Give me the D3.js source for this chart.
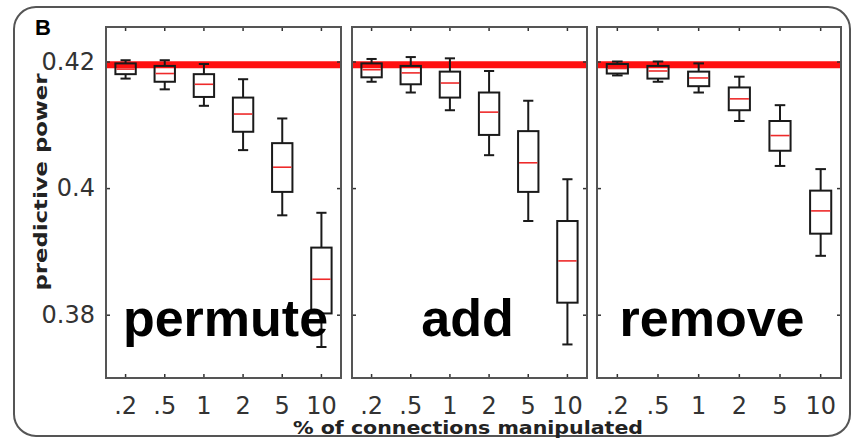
<!DOCTYPE html>
<html lang="en">
<head>
    <meta charset="UTF-8">
    <title>Predictive power vs % of connections manipulated</title>
    <script src="https://d3js.org/d3.v7.min.js"></script>
    <style>
        body { margin: 0; background: #fff; }
        svg { display: block; }
    </style>
</head>
<body>
    <div id="chart"></div>
    <script>
        // categories and tick labels
        const categories = ['.2', '.5', '1', '2', '5', '10'];
        const yTicks = [0.38, 0.4, 0.42];
        const panelNames = ['permute', 'add', 'remove'];
        const referenceLevel = 0.4195;

        // each row: [lower whisker, q1, median, q3, upper whisker]
        const permuteStats = [
            [0.4173, 0.4180, 0.4188, 0.4197, 0.4202],
            [0.4156, 0.4168, 0.4181, 0.4193, 0.4202],
            [0.4130, 0.4144, 0.4164, 0.4180, 0.4196],
            [0.4060, 0.4089, 0.4117, 0.4143, 0.4172],
            [0.3957, 0.3994, 0.4033, 0.4071, 0.4110],
            [0.3749, 0.3802, 0.3856, 0.3906, 0.3961]
        ];
        const addStats = [
            [0.4168, 0.4175, 0.4187, 0.4197, 0.4204],
            [0.4151, 0.4164, 0.4182, 0.4193, 0.4207],
            [0.4123, 0.4143, 0.4166, 0.4184, 0.4205],
            [0.4052, 0.4084, 0.4120, 0.4151, 0.4185],
            [0.3948, 0.3994, 0.4040, 0.4090, 0.4138],
            [0.3753, 0.3819, 0.3885, 0.3948, 0.4014]
        ];
        const removeStats = [
            [0.4178, 0.4181, 0.4189, 0.4196, 0.4200],
            [0.4168, 0.4173, 0.4185, 0.4193, 0.4200],
            [0.4151, 0.4161, 0.4174, 0.4184, 0.4197],
            [0.4106, 0.4123, 0.4141, 0.4159, 0.4176],
            [0.4035, 0.4059, 0.4083, 0.4106, 0.4131],
            [0.3893, 0.3928, 0.3964, 0.3996, 0.4030]
        ];
        const panelStats = [permuteStats, addStats, removeStats];

        // layout
        const width = 852, height = 439;
        const plotTop = 27, plotBottom = 378;
        const panelLeft = [106, 352, 597];
        const panelWidth = [235, 235, 244];
        const labelShift = [2, -2, -7];

        const svg = d3.select('#chart').append('svg')
            .attr('width', width)
            .attr('height', height);

        // outer rounded frame
        svg.append('rect')
            .attr('x', 14).attr('y', 7)
            .attr('width', 836).attr('height', 429)
            .attr('rx', 22)
            .attr('fill', 'none')
            .attr('stroke', '#555')
            .attr('stroke-width', 2);

        svg.append('text')
            .attr('x', 35).attr('y', 35)
            .style('font-family', '"Liberation Sans", Arial, sans-serif')
            .style('font-weight', 'bold')
            .style('font-size', '22px')
            .text('B');

        const y = d3.scaleLinear().domain([0.37, 0.42545]).range([plotBottom, plotTop]);

        panelNames.forEach((name, p) => {
            const x0 = panelLeft[p], w = panelWidth[p];
            const x = d3.scaleBand().domain(categories).range([x0, x0 + w]);
            const g = svg.append('g');

            // reference level
            g.append('line')
                .attr('x1', x0).attr('x2', x0 + w)
                .attr('y1', y(referenceLevel)).attr('y2', y(referenceLevel))
                .attr('stroke', '#ff1010')
                .attr('stroke-width', 7);

            // axes (ticks pointing inward)
            const bottomAxis = g.append('g')
                .attr('transform', `translate(0,${plotBottom})`)
                .call(d3.axisBottom(x).tickSize(-4).tickPadding(18.5));
            bottomAxis.selectAll('text')
                .style('font-family', '"DejaVu Sans", sans-serif')
                .style('font-size', '24px')
                .attr('fill', '#333');

            g.append('g')
                .attr('transform', `translate(0,${plotTop})`)
                .call(d3.axisTop(x).tickSize(-4).tickFormat(''));

            const leftAxis = g.append('g')
                .attr('transform', `translate(${x0},0)`)
                .call(d3.axisLeft(y).tickValues(yTicks).tickSize(-4).tickPadding(11)
                    .tickFormat(p === 0 ? d3.format('') : ''));
            leftAxis.selectAll('text')
                .style('font-family', '"DejaVu Sans", sans-serif')
                .style('font-size', '24px')
                .attr('fill', '#333');

            g.append('g')
                .attr('transform', `translate(${x0 + w},0)`)
                .call(d3.axisRight(y).tickValues(yTicks).tickSize(-4).tickFormat(''));

            g.selectAll('.domain').remove();
            g.selectAll('.tick line').attr('stroke', '#333').attr('stroke-width', 1.5);

            // panel frame
            g.append('rect')
                .attr('x', x0).attr('y', plotTop)
                .attr('width', w).attr('height', plotBottom - plotTop)
                .attr('fill', 'none')
                .attr('stroke', '#555')
                .attr('stroke-width', 2);

            // boxes
            const bw = x.bandwidth() * 0.52;
            const cap = bw * 0.5;
            const boxes = g.selectAll('.box')
                .data(panelStats[p])
                .enter().append('g')
                .attr('class', 'box')
                .attr('transform', (d, i) => `translate(${x(categories[i]) + x.bandwidth() / 2},0)`);

            boxes.append('line')
                .attr('y1', d => y(d[4])).attr('y2', d => y(d[3]))
                .attr('stroke', '#1a1a1a').attr('stroke-width', 2);
            boxes.append('line')
                .attr('y1', d => y(d[1])).attr('y2', d => y(d[0]))
                .attr('stroke', '#1a1a1a').attr('stroke-width', 2);
            boxes.append('line')
                .attr('x1', -cap / 2).attr('x2', cap / 2)
                .attr('y1', d => y(d[4])).attr('y2', d => y(d[4]))
                .attr('stroke', '#1a1a1a').attr('stroke-width', 2);
            boxes.append('line')
                .attr('x1', -cap / 2).attr('x2', cap / 2)
                .attr('y1', d => y(d[0])).attr('y2', d => y(d[0]))
                .attr('stroke', '#1a1a1a').attr('stroke-width', 2);
            boxes.append('rect')
                .attr('x', -bw / 2).attr('width', bw)
                .attr('y', d => y(d[3]))
                .attr('height', d => y(d[1]) - y(d[3]))
                .attr('fill', 'none')
                .attr('stroke', '#1a1a1a').attr('stroke-width', 2);
            boxes.append('line')
                .attr('x1', -bw / 2 + 1).attr('x2', bw / 2 - 1)
                .attr('y1', d => y(d[2])).attr('y2', d => y(d[2]))
                .attr('stroke', '#ee2a2a').attr('stroke-width', 1.6);

            // panel name
            g.append('text')
                .attr('x', x0 + w / 2 + labelShift[p])
                .attr('y', 336)
                .attr('text-anchor', 'middle')
                .style('font-family', '"Liberation Sans", Arial, sans-serif')
                .style('font-weight', 'bold')
                .style('font-size', '52px')
                .text(name);
        });

        // axis titles
        svg.append('text')
            .attr('transform', 'translate(47,182) rotate(-90)')
            .attr('text-anchor', 'middle')
            .attr('textLength', 217)
            .attr('lengthAdjust', 'spacingAndGlyphs')
            .style('font-family', '"DejaVu Sans", sans-serif')
            .style('font-weight', 'bold')
            .style('font-size', '18px')
            .attr('fill', '#222')
            .text('predictive power');

        svg.append('text')
            .attr('x', 468).attr('y', 434)
            .attr('text-anchor', 'middle')
            .attr('textLength', 350)
            .attr('lengthAdjust', 'spacingAndGlyphs')
            .style('font-family', '"DejaVu Sans", sans-serif')
            .style('font-weight', 'bold')
            .style('font-size', '17px')
            .attr('fill', '#222')
            .text('% of connections manipulated');
    </script>
</body>
</html>
